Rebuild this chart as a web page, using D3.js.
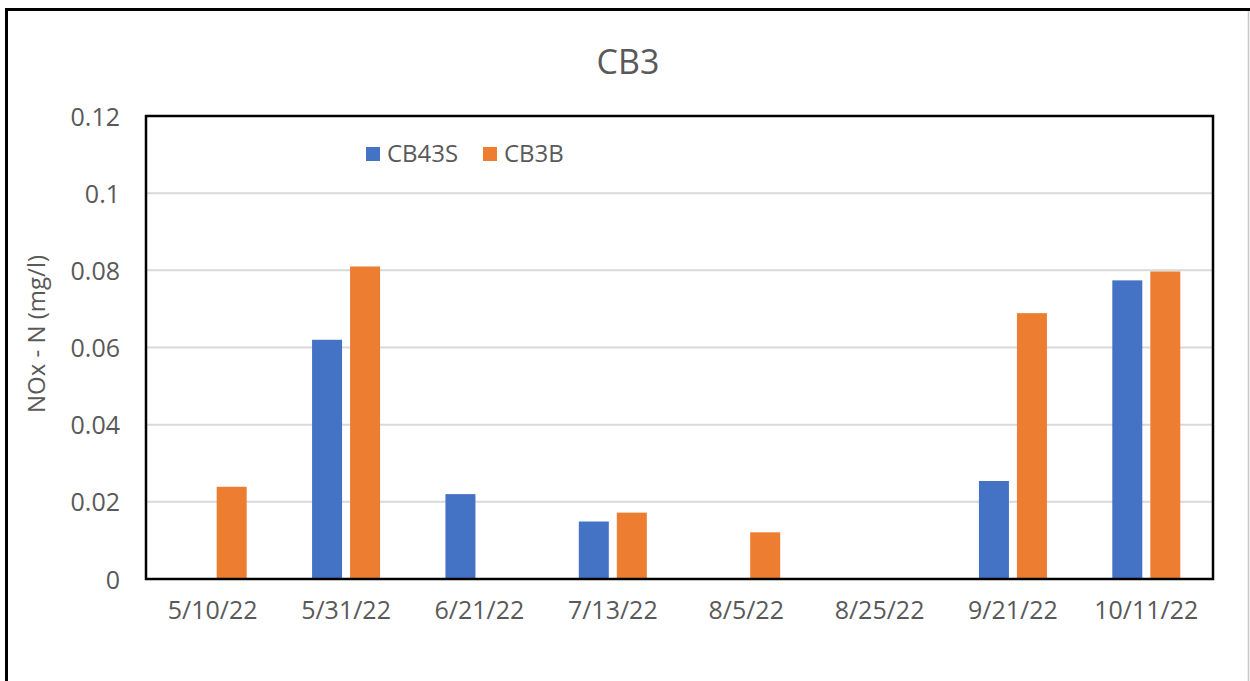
<!DOCTYPE html>
<html>
<head>
<meta charset="utf-8">
<script src="https://cdn.jsdelivr.net/npm/d3@7"></script>
<style>
  html, body { margin: 0; padding: 0; background: #fff; }
  svg { display: block; }
  text { font-family: "Open Sans", "Noto Sans", sans-serif; fill: #595959; }
</style>
</head>
<body>
<svg id="chart" width="1250" height="681"></svg>
<script>
const categories = ["5/10/22", "5/31/22", "6/21/22", "7/13/22", "8/5/22", "8/25/22", "9/21/22", "10/11/22"];
const seriesNames = ["CB43S", "CB3B"];
const cb43s = [null, 0.062, 0.022, 0.0149, null, null, 0.0254, 0.0774];
const cb3b  = [0.0239, 0.081, null, 0.0172, 0.0121, null, 0.0689, 0.0797];
const yTicks = [0, 0.02, 0.04, 0.06, 0.08, 0.1, 0.12];
const colors = ["#4472C4", "#ED7D31"];
const title = "CB3";
const yLabel = "NOx - N (mg/l)";

const svg = d3.select("#chart");
const plot = { left: 146, right: 1213, top: 116, bottom: 579 };

// outer chart border
svg.append("line").attr("x1", 5).attr("x2", 1250).attr("y1", 9.5).attr("y2", 9.5)
  .attr("stroke", "#000").attr("stroke-width", 3);
svg.append("line").attr("x1", 6.5).attr("x2", 6.5).attr("y1", 8).attr("y2", 681)
  .attr("stroke", "#000").attr("stroke-width", 3);
svg.append("line").attr("x1", 1248.5).attr("x2", 1248.5).attr("y1", 11).attr("y2", 681)
  .attr("stroke", "#c8c8c8").attr("stroke-width", 1.5);

const x0 = d3.scaleBand().domain(categories).range([plot.left, plot.right]).padding(0);
const barW = 30, gap = 8;
const step = barW + gap;
const nS = seriesNames.length;
const pIn = gap / step;
const pOut = (x0.bandwidth() / step - nS + pIn) / 2;
const x1 = d3.scaleBand().domain(seriesNames).range([0, x0.bandwidth()])
  .paddingInner(pIn).paddingOuter(pOut);
const y = d3.scaleLinear().domain([0, 0.12]).range([plot.bottom, plot.top]);

// gridlines
svg.append("g").selectAll("line").data(yTicks.filter(d => d > 0)).join("line")
  .attr("x1", plot.left).attr("x2", plot.right)
  .attr("y1", d => y(d)).attr("y2", d => y(d))
  .attr("stroke", "#d9d9d9").attr("stroke-width", 2);

// bars
const series = [cb43s, cb3b];
const rows = [];
categories.forEach((c, i) => {
  series.forEach((s, j) => {
    if (s[i] != null) rows.push({ c, name: seriesNames[j], v: s[i], color: colors[j] });
  });
});
svg.append("g").selectAll("rect").data(rows).join("rect")
  .attr("x", d => x0(d.c) + x1(d.name))
  .attr("width", x1.bandwidth())
  .attr("y", d => y(d.v))
  .attr("height", d => y(0) - y(d.v))
  .attr("fill", d => d.color);

// plot frame
svg.append("rect").attr("x", plot.left).attr("y", plot.top)
  .attr("width", plot.right - plot.left).attr("height", plot.bottom - plot.top)
  .attr("fill", "none").attr("stroke", "#000").attr("stroke-width", 2.5);

// y axis
const yAxis = d3.axisLeft(y).tickValues(yTicks).tickSize(0).tickPadding(26)
  .tickFormat(d => String(+d.toFixed(2)));
const gy = svg.append("g").attr("transform", `translate(${plot.left},0)`).call(yAxis);
gy.select(".domain").remove();
gy.selectAll("text").style("font-size", "25px").attr("fill", "#595959").attr("dy", "0.36em");

// x axis
const xAxis = d3.axisBottom(x0).tickSize(0).tickPadding(22);
const gx = svg.append("g").attr("transform", `translate(0,${plot.bottom})`).call(xAxis);
gx.select(".domain").remove();
gx.selectAll("text").style("font-size", "25px").attr("fill", "#595959").attr("dy", "0.71em");

// title
svg.append("text").attr("x", 628).attr("y", 74).attr("text-anchor", "middle")
  .style("font-size", "34px").text(title);

// y label
svg.append("text").attr("transform", "translate(45,334) rotate(-90)")
  .attr("text-anchor", "middle").style("font-size", "24px").text(yLabel);

// legend
const legendPos = [366, 483];
const lg = svg.append("g");
seriesNames.forEach((n, i) => {
  lg.append("rect").attr("x", legendPos[i]).attr("y", 147).attr("width", 14).attr("height", 14)
    .attr("fill", colors[i]);
  lg.append("text").attr("x", legendPos[i] + 21).attr("y", 162).style("font-size", "24px").text(n);
});
</script>
</body>
</html>
